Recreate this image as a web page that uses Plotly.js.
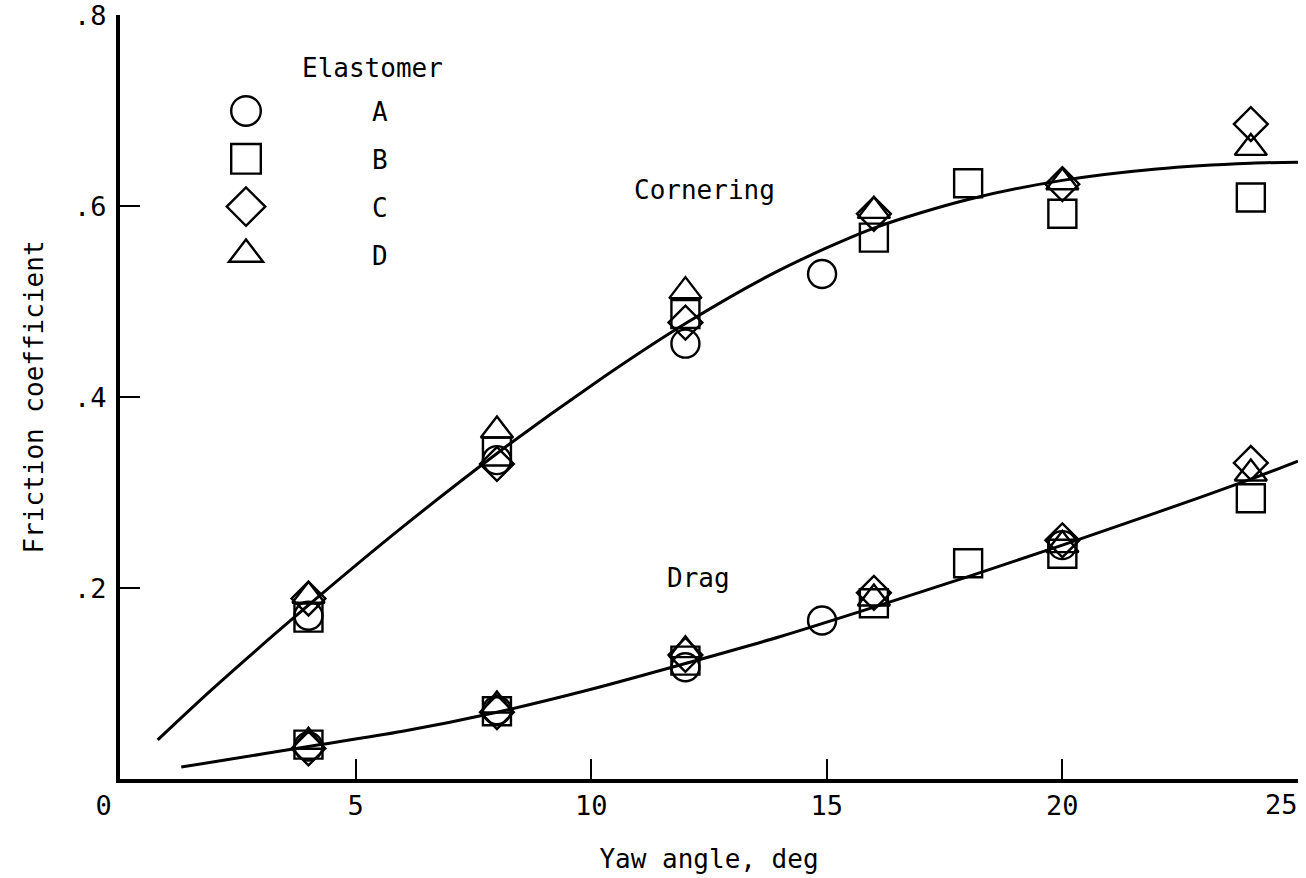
<!DOCTYPE html>
<html><head><meta charset="utf-8">
<script src="https://cdn.plot.ly/plotly-3.0.1.min.js"></script>
<style>html,body{margin:0;padding:0;background:#fff}#chart{width:1306px;height:878px}</style>
</head><body><div id="chart"></div><script>
// ---- Data: cornering friction coefficient ----
const cornA_x = [4, 8, 12, 14.9];
const cornA_y = [0.171, 0.334, 0.456, 0.529];
const cornB_x = [4, 8, 12, 16, 18, 20, 24];
const cornB_y = [0.169, 0.343, 0.487, 0.567, 0.624, 0.592, 0.609];
const cornC_x = [4, 8, 12, 16, 20, 24];
const cornC_y = [0.189, 0.330, 0.478, 0.592, 0.623, 0.686];
const cornD_x = [4, 8, 12, 16, 20, 24];
const cornD_y = [0.192, 0.365, 0.511, 0.595, 0.625, 0.661];
// ---- Data: drag friction coefficient ----
const dragA_x = [4, 8, 12, 14.9, 20];
const dragA_y = [0.034, 0.072, 0.117, 0.166, 0.245];
const dragB_x = [4, 8, 12, 16, 18, 20, 24];
const dragB_y = [0.036, 0.071, 0.124, 0.184, 0.226, 0.236, 0.294];
const dragC_x = [4, 8, 12, 16, 20, 24];
const dragC_y = [0.032, 0.070, 0.130, 0.195, 0.250, 0.331];
const dragD_x = [4, 8, 12, 16, 20, 24];
const dragD_y = [0.039, 0.077, 0.135, 0.189, 0.245, 0.320];
// ---- Faired curves ----
const cornCurve_x = [0.8, 2, 4, 6, 8, 10, 12, 14, 16, 18, 20, 22, 24, 25];
const cornCurve_y = [0.041, 0.096, 0.182, 0.264, 0.341, 0.412, 0.477, 0.533, 0.577, 0.607, 0.627, 0.639, 0.645, 0.646];
const dragCurve_x = [1.3, 2, 4, 6, 8, 10, 12, 14, 16, 18, 20, 22, 24, 25];
const dragCurve_y = [0.0125, 0.018, 0.034, 0.050, 0.070, 0.094, 0.121, 0.149, 0.180, 0.212, 0.245, 0.279, 0.314, 0.333];
// ---- Labels ----
const elastomers = ['A', 'B', 'C', 'D'];
const symbols = ['circle-open', 'square-open', 'diamond-open', 'triangle-up-open'];
const xTickVals = [0, 5, 10, 15, 20, 25];
const xTickText = ['0\u00a0\u00a0', '5', '10', '15', '20', ''];
const xLastTickLabel = '25';
const yTickVals = [0.2, 0.4, 0.6, 0.8];
const yTickText = ['.2', '.4', '.6', '.8'];

const FONT = 'DejaVu Sans Mono, monospace';
const seriesX = [cornA_x.concat(dragA_x), cornB_x.concat(dragB_x), cornC_x.concat(dragC_x), cornD_x.concat(dragD_x)];
const seriesY = [cornA_y.concat(dragA_y), cornB_y.concat(dragB_y), cornC_y.concat(dragC_y), cornD_y.concat(dragD_y)];

const traces = [
  {x: cornCurve_x, y: cornCurve_y, mode: 'lines', line: {color: '#000', width: 3, shape: 'spline', smoothing: 0.8}, showlegend: false, hoverinfo: 'skip'},
  {x: dragCurve_x, y: dragCurve_y, mode: 'lines', line: {color: '#000', width: 3, shape: 'spline', smoothing: 0.8}, showlegend: false, hoverinfo: 'skip'}
];
elastomers.forEach((name, i) => {
  traces.push({
    x: seriesX[i], y: seriesY[i], name: name, legendgroup: name, mode: 'markers',
    marker: {symbol: symbols[i], size: i === 2 ? 26 : 28, color: '#000', line: {color: '#000', width: 2.4}}
  });
});

const layout = {
  width: 1306, height: 878,
  paper_bgcolor: '#fff', plot_bgcolor: '#fff',
  margin: {l: 120, r: 8, t: 15, b: 99},
  font: {family: FONT, size: 26, color: '#000'},
  showlegend: true,
  legend: {
    x: 0, y: 0.905, xanchor: 'left', yanchor: 'top',
    traceorder: 'grouped', tracegroupgap: 11, itemwidth: 242,
    bgcolor: 'rgba(0,0,0,0)', font: {family: FONT, size: 26, color: '#000'}
  },
  xaxis: {
    range: [0, 25.001], tickvals: xTickVals, ticktext: xTickText, ticks: 'inside', ticklen: 20, tickwidth: 2, tickcolor: '#000',
    showline: true, linewidth: 4, linecolor: '#000', showgrid: false, zeroline: false,
    ticklabeloverflow: 'allow',
    tickfont: {family: FONT, size: 27},
    title: {text: 'Yaw angle, deg', font: {family: FONT, size: 26}, standoff: 30}
  },
  yaxis: {
    range: [0, 0.8002], tickvals: yTickVals, ticktext: yTickText, ticks: 'inside', ticklen: 20, tickwidth: 2, tickcolor: '#000',
    showline: true, linewidth: 4, linecolor: '#000', showgrid: false, zeroline: false,
    ticklabeloverflow: 'allow', ticklabelstandoff: 4,
    tickfont: {family: FONT, size: 27},
    title: {text: 'Friction coefficient', font: {family: FONT, size: 26}, standoff: 24}
  },
  annotations: [
    {x: 5.35, y: 0.745, xref: 'x', yref: 'y', text: 'Elastomer', showarrow: false, font: {family: FONT, size: 26}},
    {x: 12.41, y: 0.617, xref: 'x', yref: 'y', text: 'Cornering', showarrow: false, font: {family: FONT, size: 26}},
    {x: 12.27, y: 0.211, xref: 'x', yref: 'y', text: 'Drag', showarrow: false, font: {family: FONT, size: 26}},
    {x: 25, y: 0, xref: 'x', yref: 'paper', xanchor: 'right', yanchor: 'top', yshift: -8, xshift: 2,
     text: xLastTickLabel, showarrow: false, font: {family: FONT, size: 27}}
  ]
};

Plotly.newPlot('chart', traces, layout, {staticPlot: true}).then(function (gd) {
  // enlarge legend key symbols to match the reference key size
  gd.querySelectorAll('.legend .legendpoints path.scatterpts').forEach(function (p) {
    const t = p.getAttribute('transform') || '';
    p.setAttribute('transform', t + ' scale(1.85)');
    p.style.vectorEffect = 'non-scaling-stroke';
    p.style.strokeWidth = '2.4px';
  });
});
</script></body></html>
